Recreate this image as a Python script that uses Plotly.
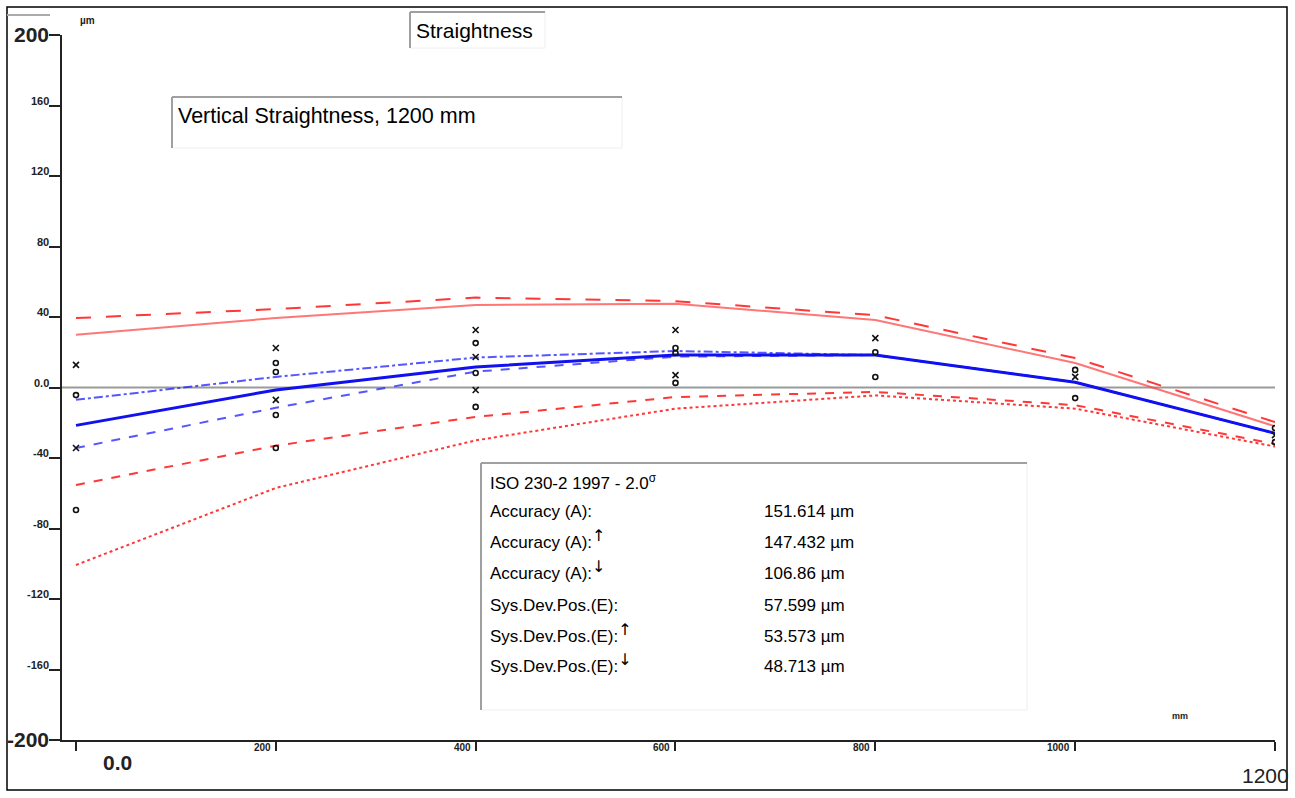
import plotly.graph_objects as go

# ---------------- data ----------------
positions = [0, 200, 400, 600, 800, 1000, 1200]

mean_dev = [-21.5, -1.4, 11.6, 18.4, 18.4, 3.0, -26.0]
fwd_dev = [-7.0, 6.0, 17.0, 20.7, 18.4, 3.0, -26.0]
bwd_dev = [-34.3, -11.5, 9.0, 17.5, 18.4, 3.0, -26.0]

upper_a = [39.4, 44.5, 51.0, 49.0, 41.0, 16.7, -19.6]
upper_b = [30.0, 39.4, 46.8, 47.5, 38.3, 13.9, -22.0]
lower_c = [-55.3, -33.0, -16.7, -5.4, -2.5, -10.0, -32.0]
lower_d = [-100.7, -57.0, -30.0, -12.0, -4.5, -12.0, -33.5]

x_pts_x = [0, 0, 200, 200, 400, 400, 400, 600, 600, 800, 1000, 1200]
x_pts_y = [12.8, -34.3, 22.4, -7.0, 32.6, 17.3, -1.4, 32.6, 7.0, 28.0, 6.0, -27.0]
o_pts_x = [0, 0, 200, 200, 200, 200, 400, 400, 400, 600, 600, 600, 800, 800, 1000, 1000, 1200, 1200]
o_pts_y = [-4.3, -69.5, 13.9, 8.8, -15.6, -34.3, 25.2, 8.2, -11.0, 22.4, 19.6, 2.6, 20.0, 6.0, 10.0, -6.0, -23.0, -31.0]

y_tick_vals = [200, 160, 120, 80, 40, 0, -40, -80, -120, -160, -200]
y_tick_text = ["200", "160", "120", "80", "40", "0.0", "-40", "-80", "-120", "-160", "-200"]
x_tick_vals = [0, 200, 400, 600, 800, 1000, 1200]
x_tick_text = ["0.0", "200", "400", "600", "800", "1000", "1200"]

ARROW_UP = "<sup><span style=\"font-family:DejaVu Sans;font-size:16px\">↑</span></sup>"
ARROW_DN = "<sup><span style=\"font-family:DejaVu Sans;font-size:16px\">↓</span></sup>"
stat_labels = ["Accuracy (A):", "Accuracy (A):" + ARROW_UP, "Accuracy (A):" + ARROW_DN,
               "Sys.Dev.Pos.(E):", "Sys.Dev.Pos.(E):" + ARROW_UP, "Sys.Dev.Pos.(E):" + ARROW_DN]
stat_values = ["151.614 µm", "147.432 µm", "106.86 µm", "57.599 µm", "53.573 µm", "48.713 µm"]

FONT = "Arial, Liberation Sans, sans-serif"

# ---------------- layout geometry (pixels) ----------------
W, H = 1295, 798
L, R, T, B = 62, 20, 35, 58
PW, PH = W - L - R, H - T - B


def px(x):
    return (x - L) / PW


def py(y):
    return (H - B - y) / PH


fig = go.Figure()

fig.add_trace(go.Scatter(x=positions, y=lower_d, mode="lines",
                         line=dict(color="rgba(255,20,20,0.85)", width=2, dash="dot")))
fig.add_trace(go.Scatter(x=positions, y=lower_c, mode="lines",
                         line=dict(color="rgba(255,20,20,0.85)", width=2, dash="dash")))
fig.add_trace(go.Scatter(x=positions, y=upper_b, mode="lines",
                         line=dict(color="rgba(255,60,60,0.7)", width=2, dash="solid")))
fig.add_trace(go.Scatter(x=positions, y=upper_a, mode="lines",
                         line=dict(color="rgba(255,20,20,0.85)", width=2, dash="longdash")))
fig.add_trace(go.Scatter(x=positions, y=fwd_dev, mode="lines",
                         line=dict(color="rgba(30,30,255,0.75)", width=2, dash="dashdot")))
fig.add_trace(go.Scatter(x=positions, y=bwd_dev, mode="lines",
                         line=dict(color="rgba(30,30,255,0.75)", width=2, dash="dash")))
fig.add_trace(go.Scatter(x=positions, y=mean_dev, mode="lines",
                         line=dict(color="#1010f0", width=3)))
fig.add_trace(go.Scatter(x=x_pts_x, y=x_pts_y, mode="markers",
                         marker=dict(symbol="x-thin-open", size=6, color="#111",
                                     line=dict(color="#111", width=1.6))))
fig.add_trace(go.Scatter(x=o_pts_x, y=o_pts_y, mode="markers",
                         marker=dict(symbol="circle-open", size=5, color="#111",
                                     line=dict(color="#111", width=1.6))))

shapes = []
# zero reference line
shapes.append(dict(type="line", xref="paper", yref="y", x0=0, x1=1, y0=0, y1=0,
                   line=dict(color="#9a9a9a", width=2), layer="below"))
# outer frame
shapes.append(dict(type="rect", xref="paper", yref="paper",
                   x0=px(7), x1=px(1287), y0=py(790), y1=py(7),
                   line=dict(color="#000", width=1.5)))
# small gray line top left
shapes.append(dict(type="line", xref="paper", yref="paper",
                   x0=px(7), x1=px(50), y0=py(15), y1=py(15),
                   line=dict(color="#aaa", width=2)))


def sunken_box(x0, y0, x1, y1):
    out = []
    out.append(dict(type="rect", xref="paper", yref="paper", x0=px(x0), x1=px(x1), y0=py(y1), y1=py(y0),
                    line=dict(color="#eeeeee", width=1), fillcolor="white"))
    out.append(dict(type="line", xref="paper", yref="paper", x0=px(x0), x1=px(x1), y0=py(y0), y1=py(y0),
                    line=dict(color="#a0a0a0", width=2)))
    out.append(dict(type="line", xref="paper", yref="paper", x0=px(x0), x1=px(x0), y0=py(y0), y1=py(y1),
                    line=dict(color="#a0a0a0", width=2)))
    return out


shapes += sunken_box(410, 12, 545, 48)
shapes += sunken_box(172, 97, 622, 148)
shapes += sunken_box(481, 463, 1027, 710)

ann = []
# y tick labels
for i, (v, t) in enumerate(zip(y_tick_vals, y_tick_text)):
    big = i in (0, len(y_tick_vals) - 1)
    ann.append(dict(xref="paper", yref="y", x=0, y=v, text="<b>%s</b>" % t,
                    showarrow=False, xanchor="right", yanchor="middle",
                    xshift=-11, yshift=1 if big else 5,
                    font=dict(family=FONT, size=21 if big else 11, color="#222")))
# x tick labels
for i, (v, t) in enumerate(zip(x_tick_vals, x_tick_text)):
    if i == 0:
        ann.append(dict(xref="x", yref="paper", x=v, y=0, text="<b>%s</b>" % t, showarrow=False,
                        xanchor="center", yanchor="middle", xshift=42, yshift=-22,
                        font=dict(family=FONT, size=21, color="#222")))
    elif i == len(x_tick_vals) - 1:
        ann.append(dict(xref="x", yref="paper", x=v, y=0, text=t, showarrow=False,
                        xanchor="center", yanchor="middle", xshift=-10, yshift=-35,
                        font=dict(family=FONT, size=21, color="#222")))
    else:
        ann.append(dict(xref="x", yref="paper", x=v, y=0, text="<b>%s</b>" % t, showarrow=False,
                        xanchor="right", yanchor="middle", xshift=-3, yshift=-7,
                        font=dict(family=FONT, size=10, color="#222")))

# unit labels
ann.append(dict(xref="paper", yref="paper", x=px(78), y=py(20), text="<b>µm</b>", showarrow=False,
                xanchor="left", yanchor="middle", font=dict(family=FONT, size=10, color="#222")))
ann.append(dict(xref="paper", yref="paper", x=px(1170), y=py(716), text="<b>mm</b>", showarrow=False,
                xanchor="left", yanchor="middle", font=dict(family=FONT, size=9, color="#222")))

# titles
ann.append(dict(xref="paper", yref="paper", x=px(414), y=py(30), text="Straightness", showarrow=False,
                xanchor="left", yanchor="middle", font=dict(family=FONT, size=21, color="#000")))
ann.append(dict(xref="paper", yref="paper", x=px(176), y=py(116), text="Vertical Straightness, 1200 mm",
                showarrow=False, xanchor="left", yanchor="middle",
                font=dict(family=FONT, size=21.5, color="#000")))

# stats box
ann.append(dict(xref="paper", yref="paper", x=px(488), y=py(483),
                text="ISO 230-2 1997 - 2.0<sup>σ</sup>", showarrow=False,
                xanchor="left", yanchor="middle", yshift=1,
                font=dict(family=FONT, size=17, color="#000")))
stat_y = [511, 542, 573, 605, 636, 666]
for lab, val, yy in zip(stat_labels, stat_values, stat_y):
    ann.append(dict(xref="paper", yref="paper", x=px(488), y=py(yy), text=lab, showarrow=False,
                    xanchor="left", yanchor="middle", yshift=3 if "<sup>" in lab else 0,
                    font=dict(family=FONT, size=17, color="#000")))
    ann.append(dict(xref="paper", yref="paper", x=px(762), y=py(yy), text=val, showarrow=False,
                    xanchor="left", yanchor="middle", font=dict(family=FONT, size=17, color="#000")))

fig.update_layout(
    width=W, height=H,
    margin=dict(l=L, r=R, t=T, b=B, pad=0),
    paper_bgcolor="white", plot_bgcolor="white",
    showlegend=False,
    shapes=shapes, annotations=ann,
    xaxis=dict(range=[-14, 1200], showgrid=False, zeroline=False, showline=True,
               linecolor="#222", linewidth=2, ticks="outside", ticklen=9, tickwidth=1.5,
               tickcolor="#222", tickvals=x_tick_vals, showticklabels=False, fixedrange=True),
    yaxis=dict(range=[-200, 200], showgrid=False, zeroline=False, showline=True,
               linecolor="#222", linewidth=2, ticks="outside", ticklen=11, tickwidth=1.5,
               tickcolor="#222", tickvals=y_tick_vals, showticklabels=False, fixedrange=True),
)

fig.write_html("out.html")
